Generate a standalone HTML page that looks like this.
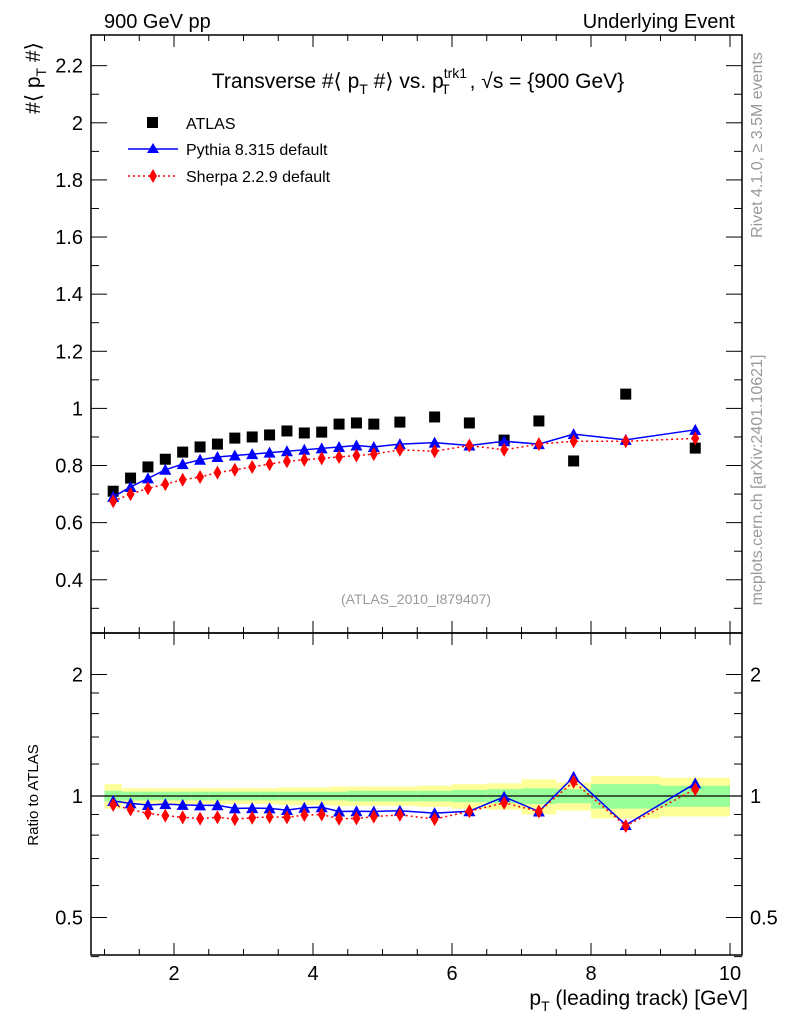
<!DOCTYPE html>
<html><head><meta charset="utf-8"><style>
body{margin:0;background:#fff}
svg{display:block;font-family:"Liberation Sans",sans-serif}
</style></head><body>
<svg id="c" width="786" height="1024" viewBox="0 0 786 1024">
<text x="104" y="28" font-size="20">900 GeV pp</text>
<text x="735" y="28" font-size="20" text-anchor="end">Underlying Event</text>
<text x="418" y="88" font-size="21" text-anchor="middle">Transverse #⟨ p<tspan font-size="14" dy="6">T</tspan><tspan dy="-6"> #⟩ vs. p</tspan><tspan font-size="14" dy="-10">trk1</tspan><tspan font-size="14" dx="-26" dy="16">T</tspan><tspan dx="20" dy="-6">, √s = {900 GeV}</tspan></text>
<text transform="translate(40,78) rotate(-90)" font-size="21" text-anchor="middle">#⟨ p<tspan font-size="14" dy="6">T</tspan><tspan dy="-6"> #⟩</tspan></text>
<text transform="translate(38,795) rotate(-90)" font-size="15" text-anchor="middle">Ratio to ATLAS</text>
<text x="748" y="1005" font-size="21" text-anchor="end">p<tspan font-size="14" dy="6">T</tspan><tspan dy="-6"> (leading track) [GeV]</tspan></text>
<text transform="translate(762,145) rotate(-90)" font-size="16" fill="#999" text-anchor="middle">Rivet 4.1.0, ≥ 3.5M events</text>
<text transform="translate(762,480) rotate(-90)" font-size="16" fill="#999" text-anchor="middle">mcplots.cern.ch [arXiv:2401.10621]</text>
<text x="416" y="604" font-size="14" fill="#999" text-anchor="middle">(ATLAS_2010_I879407)</text>
<g id="legend">
<rect x="147" y="117" width="11" height="11" fill="#000"/>
<text x="186" y="129" font-size="16">ATLAS</text>
<line x1="128" y1="149" x2="178" y2="149" stroke="#00f" stroke-width="1.5"/>
<polygon points="153,143 159,153 147,153" fill="#00f"/>
<text x="186" y="155" font-size="16">Pythia 8.315 default</text>
<line x1="128" y1="176" x2="178" y2="176" stroke="#f00" stroke-width="1.5" stroke-dasharray="2,3"/>
<polygon points="153,169 157,176 153,183 149,176" fill="#f00"/>
<text x="186" y="182" font-size="16">Sherpa 2.2.9 default</text>
</g>
</svg>
<script>
const xCenters=[1.125,1.375,1.625,1.875,2.125,2.375,2.625,2.875,3.125,3.375,3.625,3.875,4.125,4.375,4.625,4.875,5.25,5.75,6.25,6.75,7.25,7.75,8.5,9.5];
const xEdges=[1,1.25,1.5,1.75,2,2.25,2.5,2.75,3,3.25,3.5,3.75,4,4.25,4.5,4.75,5,5.5,6,6.5,7,7.5,8,9,10];
const atlas=[0.71,0.756,0.795,0.822,0.847,0.865,0.875,0.896,0.9,0.907,0.921,0.914,0.917,0.945,0.949,0.945,0.952,0.97,0.949,0.889,0.956,0.816,1.05,0.861];
const pythia=[0.69,0.725,0.755,0.785,0.805,0.82,0.83,0.835,0.84,0.845,0.85,0.855,0.86,0.865,0.87,0.865,0.875,0.88,0.87,0.885,0.875,0.91,0.89,0.925];
const sherpa=[0.675,0.70,0.72,0.735,0.75,0.76,0.775,0.785,0.795,0.805,0.815,0.82,0.825,0.83,0.835,0.84,0.855,0.85,0.87,0.855,0.875,0.885,0.885,0.895];
const statErr=[0.03,0.025,0.025,0.025,0.025,0.025,0.025,0.025,0.025,0.025,0.025,0.025,0.025,0.025,0.03,0.03,0.03,0.03,0.035,0.04,0.045,0.04,0.07,0.06];
const totErr=[0.07,0.045,0.045,0.045,0.045,0.045,0.045,0.045,0.045,0.045,0.05,0.05,0.05,0.055,0.055,0.055,0.055,0.06,0.07,0.075,0.1,0.08,0.12,0.11];
const mainTicks=[0.4,0.6,0.8,1,1.2,1.4,1.6,1.8,2,2.2];
const ratioTicks=[0.5,1,2];
const xTicks=[2,4,6,8,10];

const NS='http://www.w3.org/2000/svg', svg=document.getElementById('c');
const L=91,R=742,T1=35,B1=633,T2=633,B2=955;
const X=v=>35+69.5*v;
const Y=v=>694-285.6*v;
const YR=v=>796-121.5*Math.log2(v);
function mk(tag,a,parent){const e=document.createElementNS(NS,tag);for(const k in a)e.setAttribute(k,a[k]);(parent||svg).appendChild(e);return e;}

const bands=mk('g',{});


for(let i=0;i<xCenters.length;i++){
  const y=mk('rect',{x:X(xEdges[i]),width:X(xEdges[i+1])-X(xEdges[i]),y:YR(1+totErr[i]),height:YR(1-totErr[i])-YR(1+totErr[i]),fill:'#ffff99'},bands);
  
  
  const g=mk('rect',{x:X(xEdges[i]),width:X(xEdges[i+1])-X(xEdges[i]),y:YR(1+statErr[i]),height:YR(1-statErr[i])-YR(1+statErr[i]),fill:'#99ff99'},bands);
  
  
}
const one=mk('line',{x1:L,x2:R,y1:YR(1),y2:YR(1),stroke:'#000','stroke-width':1.2});



for(const [t,b,n] of [[T1,B1,'main-frame'],[T2,B2,'ratio-frame']]){
  const f=mk('rect',{x:L,y:t,width:R-L,height:b-t,fill:'none',stroke:'#000','stroke-width':1.5});
  
  
}
for(let v=1;v<=10.01;v+=0.5){
  const major=Math.abs(v-Math.round(v/2)*2)<0.01, len=major?12:6;
  for(const [t,b] of [[T1,B1],[T2,B2]]){
    mk('line',{x1:X(v),x2:X(v),y1:b,y2:b-len,stroke:'#000'});
    mk('line',{x1:X(v),x2:X(v),y1:t,y2:t+len,stroke:'#000'});
  }
}
xTicks.forEach(v=>{const t=mk('text',{x:X(v),y:980,'font-size':20,'text-anchor':'middle'});t.textContent=v;

});
for(let v=0.3;v<=2.3;v+=0.1){
  const major=Math.abs(v*5-Math.round(v*5))<0.01,len=major?16:8;
  mk('line',{x1:L,x2:L+len,y1:Y(v),y2:Y(v),stroke:'#000'});
  mk('line',{x1:R,x2:R-len,y1:Y(v),y2:Y(v),stroke:'#000'});
}
mainTicks.forEach(v=>{const t=mk('text',{x:83,y:Y(v)+7,'font-size':20,'text-anchor':'end'});t.textContent=String(+v.toFixed(1));

});
[0.4,0.5,0.6,0.7,0.8,0.9,1,1.2,1.4,1.6,1.8,2].forEach(v=>{
  const major=ratioTicks.includes(v),len=major?16:8;
  mk('line',{x1:L,x2:L+len,y1:YR(v),y2:YR(v),stroke:'#000'});
  mk('line',{x1:R,x2:R-len,y1:YR(v),y2:YR(v),stroke:'#000'});
});
ratioTicks.forEach(v=>{const t=mk('text',{x:83,y:YR(v)+7,'font-size':20,'text-anchor':'end'});t.textContent=v;


const t2=mk('text',{x:750,y:YR(v)+7,'font-size':20});t2.textContent=v;

});

function series(vals,Yf,color,dash,shape,name){
  const g=mk('g',{});
  
  
  const pts=xCenters.map((x,i)=>X(x)+','+Yf(vals[i],i)).join(' ');
  const a={points:pts,fill:'none',stroke:color,'stroke-width':1.5};if(dash)a['stroke-dasharray']=dash;
  mk('polyline',a,g);
  xCenters.forEach((x,i)=>{const cx=X(x),cy=Yf(vals[i],i);let p;
    if(shape==='tri')p=mk('polygon',{points:`${cx},${cy-6} ${cx+6},${cy+5} ${cx-6},${cy+5}`,fill:color},g);
    else p=mk('polygon',{points:`${cx},${cy-7} ${cx+4},${cy} ${cx},${cy+7} ${cx-4},${cy}`,fill:color},g);
    
    });
}
const ag=mk('g',{});


xCenters.forEach((x,i)=>{const r=mk('rect',{x:X(x)-5.5,y:Y(atlas[i])-5.5,width:11,height:11,fill:'#000'},ag);

});
series(pythia,v=>Y(v),'#00f',null,'tri','pythia-series');
series(sherpa,v=>Y(v),'#f00','2,3','dia','sherpa-series');
series(pythia,(v,i)=>YR(v/atlas[i]),'#00f',null,'tri','pythia-ratio');
series(sherpa,(v,i)=>YR(v/atlas[i]),'#f00','2,3','dia','sherpa-ratio');
</script>
</body></html>
